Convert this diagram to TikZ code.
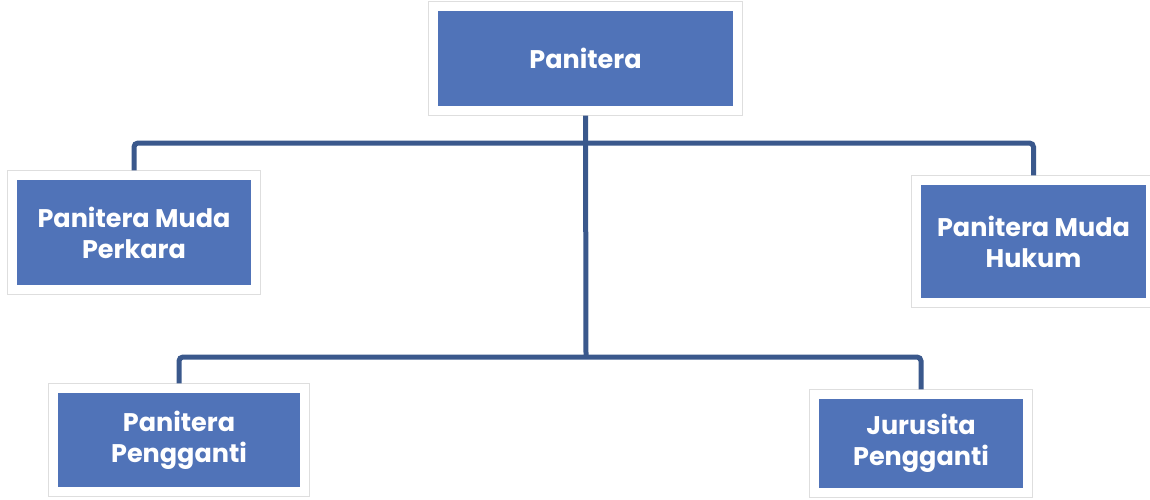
\documentclass[tikz,border=0pt]{standalone}
\usepackage{fontspec}
\setmainfont{Poppins}
\usetikzlibrary{fit,backgrounds}
\definecolor{boxblue}{RGB}{80,115,184}
\definecolor{linenavy}{RGB}{58,88,140}
\definecolor{framegray}{RGB}{222,222,222}
\tikzset{
  bluebox/.style={fill=boxblue, text=white, align=center, inner sep=0pt,
    font=\fontsize{25.5}{31}\selectfont\bfseries},
  framebox/.style={fill=white, draw=framegray, line width=1pt, inner sep=9pt},
  conn/.style={draw=linenavy, line width=5pt, rounded corners=4pt}
}
\begin{document}
\begin{tikzpicture}[x=1pt,y=-1pt]
\useasboundingbox (0,0) rectangle (1150,499);
\node[bluebox, minimum width=295pt, minimum height=95pt] (top) at (585.5,58.5) {Panitera};
\node[bluebox, minimum width=234pt, minimum height=105pt] (pmp) at (134,232.5) {Panitera Muda\\Perkara};
\node[bluebox, minimum width=225pt, minimum height=113pt] (pmh) at (1033.5,241.5) {Panitera Muda\\Hukum};
\node[bluebox, minimum width=242pt, minimum height=94pt] (pp) at (179,440) {Panitera\\Pengganti};
\node[bluebox, minimum width=204pt, minimum height=89pt] (jp) at (921,443.5) {Jurusita\\Pengganti};
\begin{scope}[on background layer]
  \fill[white] (0,0) rectangle (1150,499);
  \node[framebox, fit=(top)] (ftop) {};
  \node[framebox, fit=(pmp)] (fpmp) {};
  \node[framebox, fit=(pmh)] (fpmh) {};
  \node[framebox, fit=(pp)] (fpp) {};
  \node[framebox, fit=(jp)] (fjp) {};
  \coordinate (j1) at (586,143);
  \coordinate (j2) at (586,357);
  \draw[conn] (ftop.south) -- (j2);
  \draw[conn] (fpmp.north) |- (j1) -| (fpmh.north);
  \draw[conn] (fpp.north) |- (j2) -| (fjp.north);
\end{scope}
\end{tikzpicture}
\end{document}
